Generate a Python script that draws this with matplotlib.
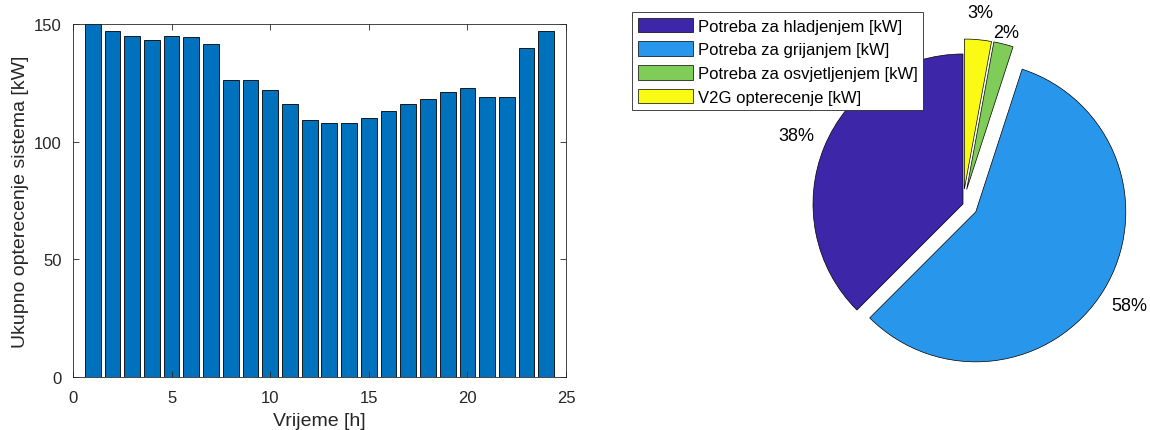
import numpy as np
import matplotlib
matplotlib.use("Agg")
import matplotlib.pyplot as plt

plt.rcParams['font.family'] = ['Liberation Sans', 'DejaVu Sans']

# ---------- data ----------
hours = np.arange(1, 25)
load_kw = [150, 147, 145, 143, 145, 144.5, 141.5, 126, 126, 122, 116, 109,
           108, 108, 110, 113, 116, 118, 121, 123, 119, 119, 140, 147]

pie_labels = ["Potreba za hladjenjem [kW]", "Potreba za grijanjem [kW]",
              "Potreba za osvjetljenjem [kW]", "V2G opterecenje [kW]"]
pie_values = [37.5, 57.5, 2.1, 2.9]
pie_explode = [0, 0.1, 0.1, 0.1]
pie_colors = ["#3E26A8", "#2796EB", "#80CC59", "#F9FB15"]

W, H = 1150, 431
fig = plt.figure(figsize=(W/100, H/100), dpi=100)
axc = '#262626'

# ---------- bar chart ----------
ax = fig.add_axes([73/W, (H-378)/H, 493/W, 353/H])
ax.bar(hours, load_kw, width=0.8, color="#0072BD", edgecolor="black", linewidth=0.6)
ax.set_xlim(0, 25)
ax.set_ylim(0, 150)
ax.set_xticks(np.arange(0, 26, 5))
ax.set_yticks([0, 50, 100, 150])
ax.tick_params(direction='in', top=True, right=True, length=4, width=0.6,
               labelsize=12, colors=axc)
ax.tick_params(axis='x', pad=9.5)
ax.tick_params(axis='y', pad=8)
for s in ax.spines.values():
    s.set_color(axc)
    s.set_linewidth(0.6)
ax.set_xlabel("Vrijeme [h]", fontsize=14, color=axc, labelpad=5)
ax.set_ylabel("Ukupno opterecenje sistema [kW]", fontsize=14, color=axc, labelpad=4)

# ---------- pie chart ----------
r_px = 150
half = 200
cx, cy = 963, 205
ax2 = fig.add_axes([(cx-half)/W, (H-cy-half)/H, 2*half/W, 2*half/H])
span = half / r_px
wedges, _, autotexts = ax2.pie(pie_values, explode=pie_explode, colors=pie_colors,
                               startangle=90, counterclock=True,
                               autopct='%1.0f%%', pctdistance=1.2,
                               wedgeprops=dict(edgecolor='black', linewidth=0.5),
                               textprops=dict(fontsize=13, color='black'))
ax2.set_xlim(-span, span)
ax2.set_ylim(-span, span)
ax2.set_aspect('equal')
ax2.axis('off')
for w in wedges:
    w.set_clip_on(False)

# pull the small labels closer so they don't crowd
for i, d in [(2, 1.08), (3, 1.18)]:
    w = wedges[i]
    th = np.deg2rad((w.theta1 + w.theta2) / 2)
    x0, y0 = w.center
    autotexts[i].set_position((x0 + d*w.r*np.cos(th), y0 + d*w.r*np.sin(th)))

leg = fig.legend(wedges, pie_labels, loc='upper left',
                 bbox_to_anchor=(632/W, 1-13/H), fontsize=12,
                 handlelength=3.35, handleheight=1.0, handletextpad=0.25,
                 labelspacing=0.45, borderpad=0.33, borderaxespad=0,
                 fancybox=False, framealpha=1, edgecolor=axc)
leg.get_frame().set_linewidth(0.6)

fig.savefig("out.png", dpi=100)
